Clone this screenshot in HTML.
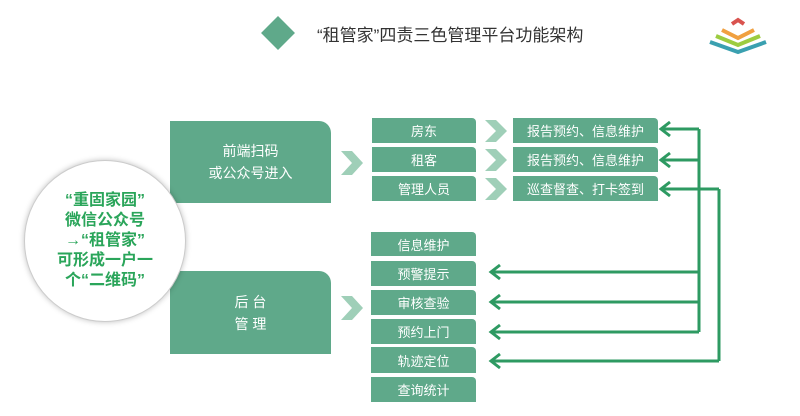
<!DOCTYPE html>
<html><head><meta charset="utf-8"><style>
body{margin:0;width:800px;height:416px;background:#fff;position:relative;overflow:hidden;font-family:"Liberation Sans","Noto Sans CJK SC",sans-serif}
.b{position:absolute;background:#5fa98a;color:#fff;display:flex;align-items:center;justify-content:center;font-size:13px;border-top-right-radius:4px}
.big{position:absolute;background:#5fa98a;color:#fff;border-top-right-radius:12px;display:flex;align-items:center;justify-content:center;text-align:center;font-size:14px;line-height:22px}
</style></head><body>
<div style="position:absolute;left:266px;top:21px;width:24px;height:24px;background:#5fa98a;transform:rotate(45deg)"></div>
<div style="position:absolute;left:317px;top:21px;font-size:17px;color:#333">“租管家”四责三色管理平台功能架构</div>
<svg style="position:absolute;left:700px;top:12px" width="80" height="44">
<path d="M32 12 L38 8 L44 12" stroke="#d9534f" stroke-width="4" fill="none"/>
<path d="M22 18 L38 26 L54 18" stroke="#f0a040" stroke-width="4" fill="none"/>
<path d="M16 24 L38 33 L60 24" stroke="#9ccc40" stroke-width="4" fill="none"/>
<path d="M10 30 L38 40 L66 30" stroke="#3aa0b0" stroke-width="4" fill="none"/>
</svg>
<div class="big" style="left:170px;top:121px;width:161px;height:82px">前端扫码<br>或公众号进入</div>
<div class="big" style="left:170px;top:271px;width:161px;height:83px">后 台<br>管 理</div>
<div style="position:absolute;left:24px;top:160px;width:160px;height:160px;border-radius:50%;background:#fff;border:1px solid #ccc;box-shadow:0 0 6px rgba(0,0,0,.25);display:flex;align-items:center;justify-content:center;text-align:center;color:#2aa55a;font-weight:bold;font-size:16px;line-height:20px">“重固家园”<br>微信公众号<br>→“租管家”<br>可形成一户一<br>个“二维码”</div>
<svg style="position:absolute;left:0;top:0" width="800" height="416">
<g fill="#9fcfb8"><polygon points="341,151 352,151 363,163 352,175 341,175 352,163"/>
<polygon points="341,296 352,296 363,308 352,320 341,320 352,308"/>
<polygon points="485,120 496,120 507,131 496,142 485,142 496,131"/>
<polygon points="485,149 496,149 507,160 496,171 485,171 496,160"/>
<polygon points="485,178 496,178 507,189 496,200 485,200 496,189"/></g>
<g stroke="#2e9a62" stroke-width="3" fill="none">
<path d="M699 129V332M719 189V361"/>
<path d="M662 129H699M662 160H699M662 189H719"/>
<path d="M492 272H699M492 302H699M492 332H699M492 361H719"/>
<path d="M670 122L661 129L670 136M670 153L661 160L670 167M670 182L661 189L670 196"/>
<path d="M500 265L491 272L500 279M500 295L491 302L500 309M500 325L491 332L500 339M500 354L491 361L500 368"/>
</g></svg>
<div class="b" style="left:372px;top:118px;width:104px;height:25px">房东</div>
<div class="b" style="left:372px;top:147px;width:104px;height:25px">租客</div>
<div class="b" style="left:372px;top:176px;width:104px;height:25px">管理人员</div>
<div class="b" style="left:513px;top:118px;width:145px;height:25px">报告预约、信息维护</div>
<div class="b" style="left:513px;top:147px;width:145px;height:25px">报告预约、信息维护</div>
<div class="b" style="left:513px;top:176px;width:145px;height:25px">巡查督查、打卡签到</div>
<div class="b" style="left:371px;top:232px;width:105px;height:24px">信息维护</div>
<div class="b" style="left:371px;top:261px;width:105px;height:25px">预警提示</div>
<div class="b" style="left:371px;top:290px;width:105px;height:25px">审核查验</div>
<div class="b" style="left:371px;top:319px;width:105px;height:25px">预约上门</div>
<div class="b" style="left:371px;top:347px;width:105px;height:26px">轨迹定位</div>
<div class="b" style="left:371px;top:377px;width:105px;height:25px">查询统计</div>
</body></html>
